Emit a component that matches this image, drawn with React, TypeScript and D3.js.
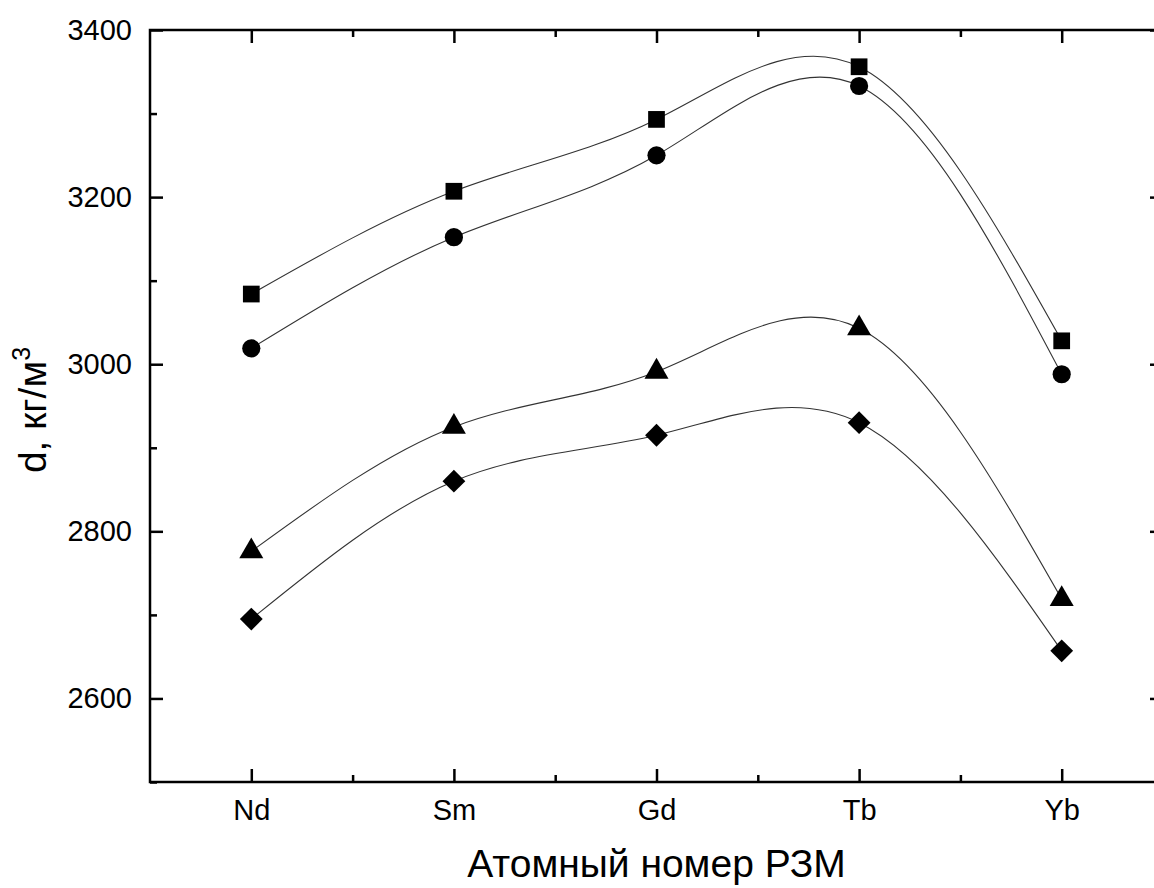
import React, { useEffect, useRef } from "react";
import * as d3 from "d3";

const width = 1154;
const height = 888;
const margin = { top: 30, right: -9, bottom: 106, left: 150 };
const plotW = width - margin.left - margin.right;
const plotH = height - margin.top - margin.bottom;

const elements = ["Nd", "Sm", "Gd", "Tb", "Yb"];
const squares = [3084, 3207, 3293, 3356, 3028];
const circles = [3019, 3152, 3250, 3333, 2988];
const triangles = [2776, 2925, 2991, 3043, 2719];
const diamonds = [2695, 2860, 2915, 2930, 2657];
const yTicks = [2600, 2800, 3000, 3200, 3400];
const yMinorTicks = [2500, 2700, 2900, 3100, 3300];

const series = [
  { name: "square", values: squares, symbol: d3.symbolSquare, size: 280, rotate: 0 },
  { name: "circle", values: circles, symbol: d3.symbolCircle, size: 260, rotate: 0 },
  { name: "triangle", values: triangles, symbol: d3.symbolTriangle, size: 250, rotate: 0 },
  { name: "diamond", values: diamonds, symbol: d3.symbolSquare, size: 260, rotate: 45 },
];

const font = "'Liberation Sans', Arial, sans-serif";

export default function App() {
  const bottomRef = useRef<SVGGElement>(null);
  const topRef = useRef<SVGGElement>(null);
  const leftRef = useRef<SVGGElement>(null);
  const rightRef = useRef<SVGGElement>(null);

  const x = d3.scalePoint<string>().domain(elements).range([0, plotW]).padding(0.5);
  const xi = d3.scaleLinear().domain([-0.5, elements.length - 0.5]).range([0, plotW]);
  const y = d3.scaleLinear().domain([2500, 3400]).range([plotH, 0]);

  const line = d3
    .line<number>()
    .x((_, i) => xi(i))
    .y((d) => y(d))
    .curve(d3.curveNatural);

  const minorX = d3.range(0, elements.length).map((i) => i + 0.5);

  useEffect(() => {
    const style = (g: d3.Selection<SVGGElement, unknown, null, undefined>) => {
      g.selectAll(".domain").remove();
      g.selectAll(".tick line").attr("stroke", "#000").attr("stroke-width", 2.5);
      g.selectAll(".tick text").attr("font-family", font).attr("font-size", 29).attr("fill", "#000");
    };

    const bottom = d3.select(bottomRef.current!);
    bottom.selectAll("*").remove();
    bottom.call(d3.axisBottom(x).tickSizeInner(-13).tickSizeOuter(0).tickPadding(17)).call(style);
    bottom
      .append("g")
      .call(d3.axisBottom(xi).tickValues(minorX).tickSizeInner(-7).tickSizeOuter(0).tickFormat(() => ""))
      .call(style);

    const top = d3.select(topRef.current!);
    top.selectAll("*").remove();
    top.call(d3.axisTop(x).tickSizeInner(-13).tickSizeOuter(0).tickFormat(() => "")).call(style);
    top
      .append("g")
      .call(d3.axisTop(xi).tickValues(minorX).tickSizeInner(-7).tickSizeOuter(0).tickFormat(() => ""))
      .call(style);

    const left = d3.select(leftRef.current!);
    left.selectAll("*").remove();
    left
      .call(d3.axisLeft(y).tickValues(yTicks).tickSizeInner(-13).tickSizeOuter(0).tickPadding(18).tickFormat(d3.format("d")))
      .call(style);
    left
      .append("g")
      .call(d3.axisLeft(y).tickValues(yMinorTicks).tickSizeInner(-7).tickSizeOuter(0).tickFormat(() => ""))
      .call(style);

    const right = d3.select(rightRef.current!);
    right.selectAll("*").remove();
    right.call(d3.axisRight(y).tickValues(yTicks).tickSizeInner(-13).tickSizeOuter(0).tickFormat(() => "")).call(style);
    right
      .append("g")
      .call(d3.axisRight(y).tickValues(yMinorTicks).tickSizeInner(-7).tickSizeOuter(0).tickFormat(() => ""))
      .call(style);
  });

  return (
    <svg
      width={width}
      height={height}
      style={{ position: "absolute", left: 0, top: 0, background: "#fff" }}
    >
      <g transform={`translate(${margin.left},${margin.top})`}>
        {series.map((s) => (
          <path key={s.name + "-line"} d={line(s.values) || ""} fill="none" stroke="#333" strokeWidth={1.1} />
        ))}
        {series.map((s) =>
          s.values.map((v, i) => (
            <path
              key={s.name + i}
              transform={`translate(${x(elements[i])},${y(v)}) rotate(${s.rotate})`}
              d={d3.symbol().type(s.symbol).size(s.size)() || ""}
              fill="#000"
            />
          ))
        )}
        <g ref={bottomRef} transform={`translate(0,${plotH})`} />
        <g ref={topRef} />
        <g ref={leftRef} />
        <g ref={rightRef} transform={`translate(${plotW},0)`} />
        <rect x={0} y={0} width={plotW} height={plotH} fill="none" stroke="#000" strokeWidth={2.5} />
        <text
          x={plotW / 2}
          y={plotH + 95}
          textAnchor="middle"
          fontFamily={font}
          fontSize={39}
          fill="#000"
        >
          Атомный номер РЗМ
        </text>
        <text
          transform={`translate(${-104},${plotH / 2 + 4}) rotate(-90)`}
          textAnchor="middle"
          fontFamily={font}
          fontSize={39}
          fill="#000"
        >
          d, кг/м<tspan fontSize={25} dy={-16}>3</tspan>
        </text>
      </g>
    </svg>
  );
}
